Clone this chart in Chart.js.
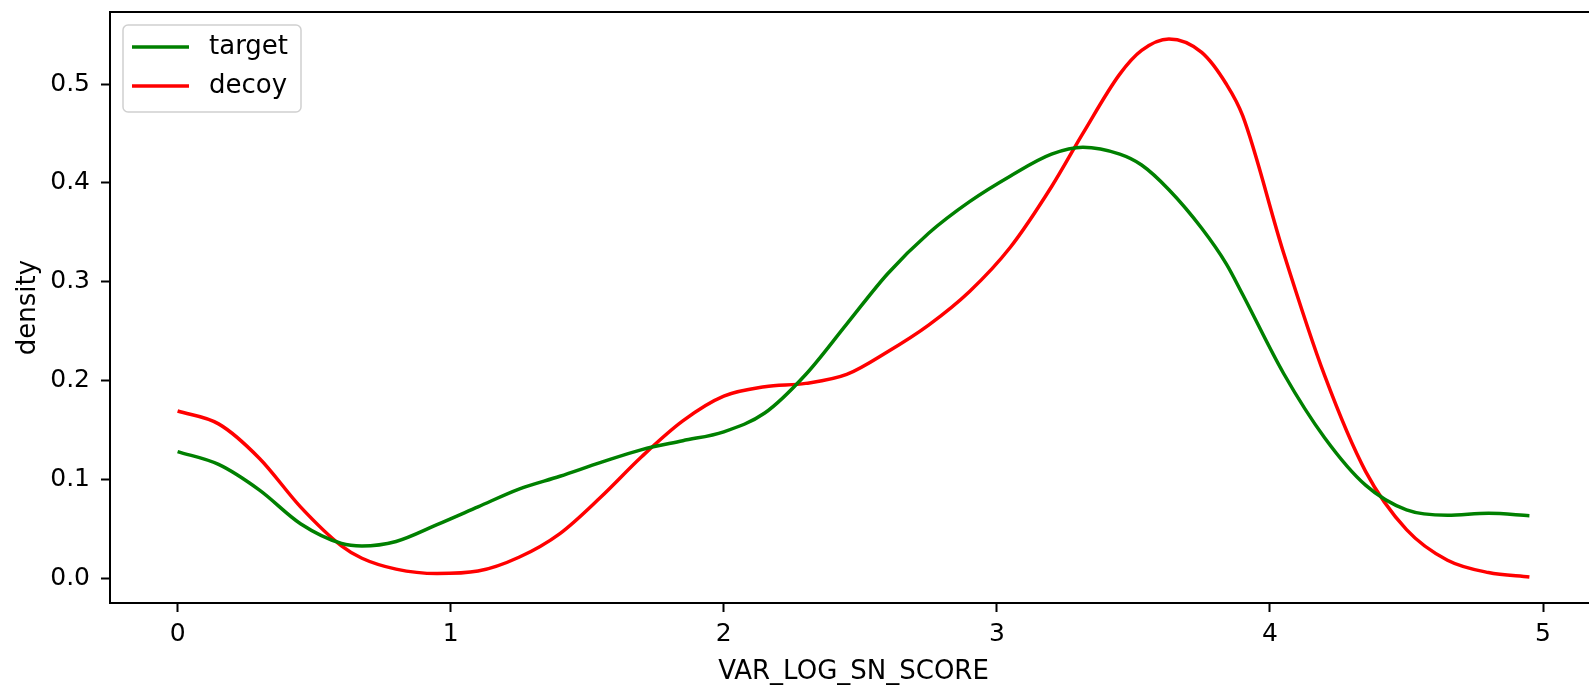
<!DOCTYPE html>
<html>
<head>
<meta charset="utf-8">
<script src="https://cdn.jsdelivr.net/npm/chart.js@4/dist/chart.umd.min.js"></script>
<style>
    html, body { margin: 0; padding: 0; background: #fff; overflow: hidden; }
    /* axes run a little past the right edge of the window, like the cropped figure */
    #wrap { width: 1597px; height: 688px; position: relative; }
</style>
</head>
<body>
<div id="wrap"><canvas id="kde-chart"></canvas></div>
<script>
// KDE curves
const xValues = [0, 0.15, 0.3, 0.45, 0.6, 0.675, 0.8, 0.95, 1.1, 1.25, 1.4, 1.55, 1.7, 1.85,
    2.0, 2.15, 2.3, 2.45, 2.6, 2.75, 2.9, 3.05, 3.2, 3.315, 3.45, 3.53, 3.63, 3.75, 3.84, 3.9,
    4.05, 4.2, 4.35, 4.5, 4.65, 4.8, 4.95];

const targetDensity = [0.128, 0.115, 0.089, 0.055, 0.035, 0.0324, 0.037, 0.054, 0.072, 0.090,
    0.103, 0.117, 0.130, 0.139, 0.148, 0.167, 0.206, 0.257, 0.308, 0.349, 0.381, 0.407,
    0.429, 0.436, 0.429, 0.418, 0.393, 0.354, 0.318, 0.287, 0.207, 0.142, 0.094, 0.069,
    0.0636, 0.0655, 0.063];

const decoyDensity = [0.169, 0.156, 0.121, 0.072, 0.0325, 0.020, 0.009, 0.0045, 0.007, 0.021,
    0.045, 0.082, 0.123, 0.159, 0.184, 0.1935, 0.197, 0.206, 0.229, 0.256, 0.290, 0.335,
    0.396, 0.450, 0.510, 0.534, 0.5456, 0.532, 0.500, 0.468, 0.329, 0.205, 0.108, 0.049,
    0.018, 0.0055, 0.001];

const seriesLabels = ['target', 'decoy'];
const seriesColors = ['#008000', '#ff0000'];

const FONT = 'DejaVu Sans';

// Draw top/right spines and the matplotlib-style legend box
const frameLegendPlugin = {
    id: 'frameLegend',
    afterDraw(chart) {
        const ctx = chart.ctx;
        const a = chart.chartArea;
        ctx.save();
        ctx.strokeStyle = '#000';
        ctx.lineWidth = 2;
        ctx.beginPath();
        ctx.moveTo(a.left, a.top);
        ctx.lineTo(a.right, a.top);
        ctx.lineTo(a.right, a.bottom);
        ctx.stroke();

        // legend
        ctx.beginPath();
        ctx.roundRect(a.left + 13, a.top + 13, 178, 87, 5);
        ctx.fillStyle = 'rgba(255,255,255,0.8)';
        ctx.fill();
        ctx.strokeStyle = '#d0d0d0';
        ctx.lineWidth = 1.5;
        ctx.stroke();

        ctx.font = '26px "' + FONT + '"';
        ctx.textBaseline = 'middle';
        ctx.textAlign = 'left';
        chart.data.datasets.forEach((ds, i) => {
            const y = a.top + 35 + i * 39;
            ctx.strokeStyle = ds.borderColor;
            ctx.lineWidth = 3.5;
            ctx.beginPath();
            ctx.moveTo(a.left + 22, y);
            ctx.lineTo(a.left + 79, y);
            ctx.stroke();
            ctx.fillStyle = '#000';
            ctx.fillText(ds.label, a.left + 99, y);
        });
        ctx.restore();
    }
};

const ctx = document.getElementById('kde-chart');

new Chart(ctx, {
    type: 'line',
    data: {
        datasets: [
            {
                label: seriesLabels[0],
                data: xValues.map((x, i) => ({ x: x, y: targetDensity[i] })),
                borderColor: seriesColors[0],
                borderWidth: 3.5,
                pointRadius: 0,
                cubicInterpolationMode: 'monotone',
                fill: false
            },
            {
                label: seriesLabels[1],
                data: xValues.map((x, i) => ({ x: x, y: decoyDensity[i] })),
                borderColor: seriesColors[1],
                borderWidth: 3.5,
                pointRadius: 0,
                cubicInterpolationMode: 'monotone',
                fill: false
            }
        ]
    },
    options: {
        responsive: true,
        maintainAspectRatio: false,
        animation: false,
        devicePixelRatio: 1,
        layout: {
            padding: { top: 12, right: 0, left: 0, bottom: 0 }
        },
        plugins: {
            legend: { display: false },
            tooltip: { enabled: false }
        },
        scales: {
            x: {
                type: 'linear',
                min: -0.2475,
                max: 5.1975,
                afterFit: function(scale) { scale.height = 85; },
                border: { color: '#000', width: 2 },
                grid: { drawOnChartArea: false, tickLength: 9, tickWidth: 2, tickColor: '#000' },
                ticks: {
                    stepSize: 1,
                    includeBounds: false,
                    color: '#000',
                    padding: 7,
                    maxRotation: 0,
                    font: { family: FONT, size: 25 },
                    callback: function(value) { return String(value); }
                },
                title: {
                    display: true,
                    text: 'VAR_LOG_SN_SCORE',
                    color: '#000',
                    font: { family: FONT, size: 26 },
                    padding: { top: 0, bottom: 0 }
                }
            },
            y: {
                type: 'linear',
                min: -0.0253,
                max: 0.5729,
                afterFit: function(scale) {
                    scale.width = 110;
                    scale.paddingTop = 0;
                    scale.paddingBottom = 0;
                },
                border: { color: '#000', width: 2 },
                grid: { drawOnChartArea: false, tickLength: 9, tickWidth: 2, tickColor: '#000' },
                ticks: {
                    stepSize: 0.1,
                    includeBounds: false,
                    color: '#000',
                    padding: 11,
                    font: { family: FONT, size: 25 },
                    callback: function(value) { return value.toFixed(1); }
                },
                title: {
                    display: true,
                    text: 'density',
                    color: '#000',
                    font: { family: FONT, size: 26 },
                    padding: { top: 13, bottom: 0 }
                }
            }
        }
    },
    plugins: [frameLegendPlugin]
});
</script>
</body>
</html>
